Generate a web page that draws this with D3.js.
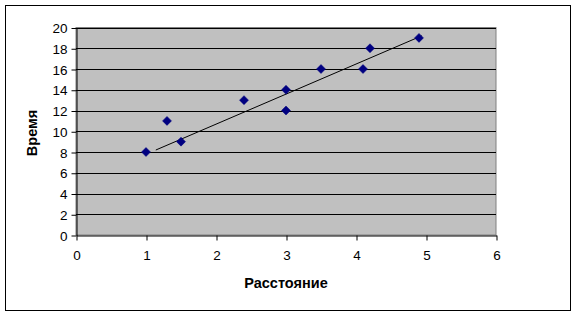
<!DOCTYPE html>
<html><head><meta charset="utf-8">
<script src="https://cdn.jsdelivr.net/npm/d3@7"></script>
<style>body{margin:0;background:#fff;}svg{display:block;}</style>
</head><body>
<script>
const distance = [1, 1.3, 1.5, 2.4, 3, 3, 3.5, 4.1, 4.2, 4.9];
const time = [8, 11, 9, 13, 14, 12, 16, 16, 18, 19];
const trendX = [1.14, 4.94];
const trendY = [8.19, 19.2];
const xTicks = [0, 1, 2, 3, 4, 5, 6];
const yTicks = [0, 2, 4, 6, 8, 10, 12, 14, 16, 18, 20];
const xTitle = "Расстояние";
const yTitle = "Время";

const W = 577, H = 317;
const svg = d3.select("body").append("svg").attr("width", W).attr("height", H);
svg.append("rect").attr("x", 5.5).attr("y", 5.5).attr("width", 565).attr("height", 305)
  .attr("fill", "#fff").attr("stroke", "#000").attr("stroke-width", 1);

const L = 76, R = 496, T = 27.5, B = 235;
const x = d3.scaleLinear().domain([0, 6]).range([L, R]);
const y = d3.scaleLinear().domain([0, 20]).range([B, T]);

svg.append("rect").attr("x", L).attr("y", T).attr("width", R - L).attr("height", B - T)
  .attr("fill", "#c0c0c0").attr("stroke", "#808080").attr("stroke-width", 1);

svg.append("g").selectAll("line").data(yTicks.filter(d => d > 0)).join("line")
  .attr("x1", L).attr("x2", R)
  .attr("y1", d => Math.round(y(d)) + 0.5).attr("y2", d => Math.round(y(d)) + 0.5)
  .attr("stroke", "#000").attr("stroke-width", 1);

const font = "Arial, 'Liberation Sans', sans-serif";
const yAxis = d3.axisLeft(y).tickValues(yTicks).tickFormat(d3.format("d")).tickSize(5).tickPadding(4).tickSizeOuter(0);
const gy = svg.append("g").attr("transform", `translate(${L + 0.5},0.5)`).call(yAxis);
const xAxis = d3.axisBottom(x).tickValues(xTicks).tickFormat(d3.format("d")).tickSize(5).tickPadding(10).tickSizeOuter(0);
const gx = svg.append("g").attr("transform", `translate(0.5,${Math.round(B) + 0.5})`).call(xAxis);
[gy, gx].forEach(g => {
  g.selectAll("path").attr("stroke", "#000");
  g.selectAll("line").attr("stroke", "#000");
  g.selectAll("text").attr("font-family", font).attr("font-size", 13.5).attr("fill", "#000");
});
gy.selectAll("text").attr("dy", "0.35em");

svg.append("line")
  .attr("x1", x(trendX[0])).attr("y1", y(trendY[0]))
  .attr("x2", x(trendX[1])).attr("y2", y(trendY[1]))
  .attr("stroke", "#000").attr("stroke-width", 1);

const pts = distance.map((d, i) => [d, time[i]]);
svg.append("g").selectAll("path").data(pts).join("path")
  .attr("transform", d => `translate(${x(d[0])},${y(d[1])})`)
  .attr("d", "M0,-4.5L4.5,0L0,4.5L-4.5,0Z")
  .attr("fill", "#000080").attr("stroke", "#000080").attr("stroke-width", 0.5);

svg.append("text").attr("x", 286).attr("y", 288).attr("text-anchor", "middle")
  .attr("font-family", font).attr("font-weight", "bold").attr("font-size", 14.5).text(xTitle);
svg.append("text").attr("transform", "translate(37,133) rotate(-90)").attr("text-anchor", "middle")
  .attr("font-family", font).attr("font-weight", "bold").attr("font-size", 14.5).text(yTitle);
</script>
</body></html>
